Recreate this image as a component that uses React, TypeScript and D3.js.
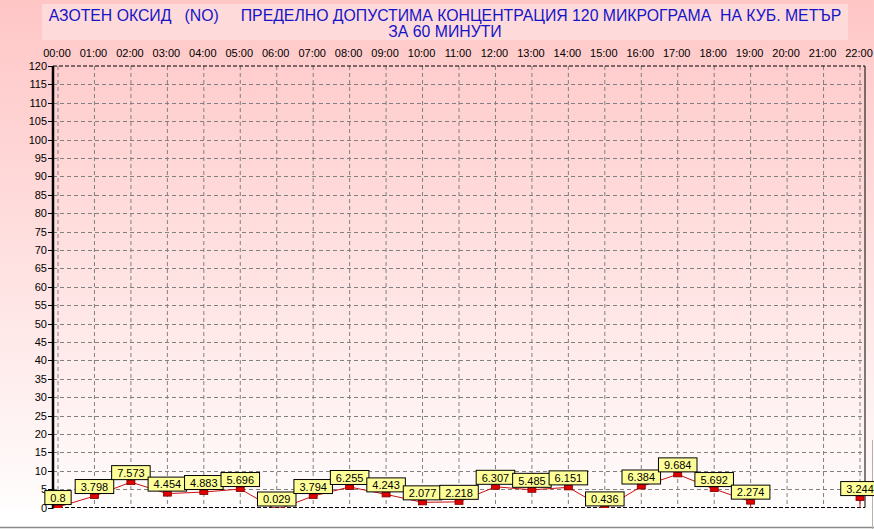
import React from "react";
import * as d3 from "d3";

const hours: string[] = ["00:00","01:00","02:00","03:00","04:00","05:00","06:00","07:00","08:00","09:00","10:00","11:00","12:00","13:00","14:00","15:00","16:00","17:00","18:00","19:00","20:00","21:00","22:00"];
const values: (number | null)[] = [0.8,3.798,7.573,4.454,4.883,5.696,0.029,3.794,6.255,4.243,2.077,2.218,6.307,5.485,6.151,0.436,6.384,9.684,5.692,2.274,null,null,3.244];
const yTicks: number[] = d3.range(0, 121, 5);
const titleLine1 = "АЗОТЕН ОКСИД   (NO)     ПРЕДЕЛНО ДОПУСТИМА КОНЦЕНТРАЦИЯ 120 МИКРОГРАМА  НА КУБ. МЕТЪР";
const titleLine2 = "ЗА 60 МИНУТИ";

const W = 874, H = 529;
const FONT = "Arial, 'Liberation Sans', sans-serif";

export default function App() {
  const x = d3.scaleLinear().domain([0, hours.length - 1]).range([58, 860]);
  const y = d3.scaleLinear().domain([0, 120]).range([507.5, 66]);
  const left = 53, right = 865, top = 66, bottom = 507.5;

  const pts = values.map((v, i) => ({ i, v }));
  const line = d3.line<{ i: number; v: number | null }>()
    .defined(d => d.v !== null)
    .x(d => x(d.i))
    .y(d => y(d.v as number) + 2.5);

  const drops = pts.filter((d, k) => d.v !== null && (k === values.length - 1 || values[k + 1] === null));

  const textW = (s: string) => s.split("").reduce((a, c) => a + (c === "." ? 3.06 : 6.12), 0);

  return (
    <div style={{ position: "fixed", left: 0, top: 0 }}>
      <svg width={W} height={H} style={{ display: "block" }} fontFamily={FONT}>
        <defs>
          <linearGradient id="bg" x1="0" y1="0" x2="0" y2="1">
            <stop offset="0" stopColor="#ffc6c6" />
            <stop offset="0.55" stopColor="#ffe4e4" />
            <stop offset="1" stopColor="#ffffff" />
          </linearGradient>
          <clipPath id="plotClip">
            <rect x={0} y={0} width={W} height={508} />
          </clipPath>
        </defs>
        <rect x={0} y={0} width={W} height={H} fill="url(#bg)" />
        <rect x={0} y={510} width={W} height={H - 510} fill="#ffffff" />
        <line x1={0} x2={W} y1={527.5} y2={527.5} stroke="#8a8a8a" strokeWidth={1.5} />
        <line x1={872.5} x2={872.5} y1={440} y2={H} stroke="#b8b0b0" strokeWidth={1} />

        {/* title */}
        <rect x={42} y={4} width={806} height={36} fill="#ffdada" />
        <text x={445} y={21} textAnchor="middle" fontSize={15.8} fill="#1414c8" style={{ whiteSpace: "pre" }}>{titleLine1}</text>
        <text x={445} y={37} textAnchor="middle" fontSize={15.8} fill="#1414c8">{titleLine2}</text>

        {/* hour labels */}
        {hours.map((h, i) => (
          <text key={h} x={x(i) - 1} y={57} textAnchor="middle" fontSize={11} fill="#000">{h}</text>
        ))}

        {/* grid */}
        {hours.map((h, i) => (
          <line key={"vg" + h} x1={x(i)} x2={x(i)} y1={top} y2={bottom} stroke="#808080" strokeDasharray="4,3" />
        ))}
        {yTicks.filter(t => t > 0 && t < 120).map(t => (
          <line key={"hg" + t} x1={left} x2={right} y1={Math.round(y(t)) + 0.5} y2={Math.round(y(t)) + 0.5} stroke="#808080" strokeDasharray="4,3" />
        ))}

        {/* frame */}
        <line x1={left} x2={right} y1={top} y2={top} stroke="#000" strokeDasharray="4,2" />
        <line x1={left} x2={right} y1={bottom} y2={bottom} stroke="#000" strokeDasharray="4,2" />
        <line x1={right} x2={right} y1={top} y2={bottom} stroke="#000" strokeWidth={1} />
        <line x1={left} x2={left} y1={top} y2={bottom + 1} stroke="#000" strokeWidth={2.5} />

        {/* y ticks */}
        {yTicks.map(t => (
          <g key={"yt" + t}>
            <line x1={48} x2={left} y1={Math.round(y(t)) + 0.5} y2={Math.round(y(t)) + 0.5} stroke="#000" />
            <text x={47} y={y(t) + 4} textAnchor="end" fontSize={11} fill="#000">{t}</text>
          </g>
        ))}

        {/* series line */}
        <g clipPath="url(#plotClip)">
          <path d={line(pts) || ""} fill="none" stroke="#cc1010" strokeWidth={1} />
          {drops.map(d => (
            <line key={"dr" + d.i} x1={x(d.i)} x2={x(d.i)} y1={y(d.v as number) + 2.5} y2={bottom} stroke="#cc1010" strokeWidth={1} />
          ))}
        </g>

        {/* markers and labels */}
        {pts.filter(d => d.v !== null).map(d => {
          const v = d.v as number;
          const label = String(v);
          const bw = textW(label) + 11;
          const by = Math.min(y(v), 506) - 14;
          return (
            <g key={"pt" + d.i}>
              <rect x={x(d.i) - 4} y={y(v) + 0.5} width={8} height={4.5} fill="#e00000" stroke="#7a0000" strokeWidth={0.8} clipPath="url(#plotClip)" />
              <rect x={x(d.i) - bw / 2} y={by} width={bw} height={14} fill="#ffff99" stroke="#000" strokeWidth={1} />
              <text x={x(d.i)} y={by + 11.3} textAnchor="middle" fontSize={11} fill="#000">{label}</text>
            </g>
          );
        })}
      </svg>
    </div>
  );
}
